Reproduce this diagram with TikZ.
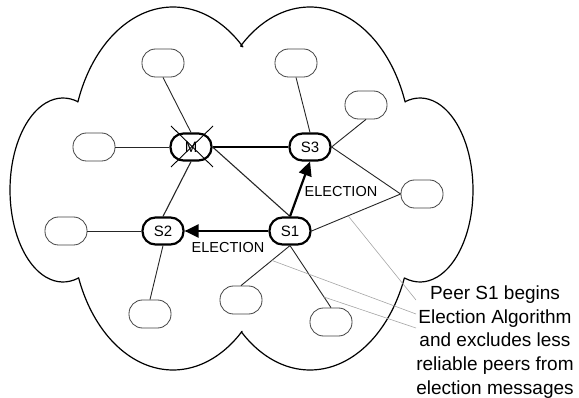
\documentclass[tikz,border=0pt]{standalone}
\usepackage{fontspec}
\setmainfont{Liberation Sans}
\usetikzlibrary{arrows.meta,calc}
\begin{document}
\begin{tikzpicture}[x=1pt,y=-1pt,
  peer/.style={draw=black!75,line width=0.8pt,rectangle,rounded corners=13.5pt,minimum width=42pt,minimum height=28pt,inner sep=0pt},
  super/.style={draw=black,line width=2.2pt,rectangle,rounded corners=13pt,minimum width=41pt,minimum height=27pt,inner sep=0pt,font=\fontsize{15}{15}\selectfont},
  link/.style={draw=black!85,line width=0.9pt},
  strong/.style={draw=black,line width=2pt},
  elect/.style={draw=black,line width=2.2pt,-{Triangle[length=14pt,width=13pt]}},
  note/.style={draw=black!35,line width=0.6pt},
  lbl/.style={font=\fontsize{14.5}{14.5}\selectfont,inner sep=0pt},
  cloudline/.style={draw=black,line width=1.2pt,line join=round}
]
\useasboundingbox (0,0) rectangle (579,398);
% cloud
\draw[cloudline]
  plot[domain=199.6:313.8,variable=\t,samples=40,smooth] ({173+101*cos(\t)},{150+143*sin(\t)})
  -- plot[domain=226.6:340.4,variable=\t,samples=40,smooth] ({310+101*cos(\t)},{150+143*sin(\t)})
  -- plot[domain=253.5:466.5,variable=\t,samples=50,smooth] ({420+53*cos(\t)},{190+92*sin(\t)})
  -- plot[domain=20.9:132.8,variable=\t,samples=40,smooth] ({310+101*cos(\t)},{227+143*sin(\t)})
  -- plot[domain=46.8:159.2,variable=\t,samples=40,smooth] ({173+101*cos(\t)},{227+143*sin(\t)})
  -- plot[domain=73.5:286.5,variable=\t,samples=50,smooth] ({63+53*cos(\t)},{190+92*sin(\t)})
  -- cycle;
% nodes
\node[peer] (tl) at (163,63) {};
\node[peer] (tm) at (296,63) {};
\node[peer] (ru) at (366,105) {};
\node[peer] (lp) at (94,147) {};
\node[super] (m) at (191,147) {M};
\node[super] (s3) at (310,147) {S3};
\node[peer] (rm) at (422,194) {};
\node[peer] (ll) at (66,231) {};
\node[super] (s2) at (163,231) {S2};
\node[super] (s1) at (290,231) {S1};
\node[peer] (b2) at (150,314) {};
\node[peer] (bm) at (241,300) {};
\node[peer] (br) at (331,322) {};
% links
\draw[link] (tl.south) -- (m.north);
\draw[link] (tm.south) -- (s3.north);
\draw[link] (ru.south) -- (s3.east);
\draw[link] (s3.east) -- (rm.west);
\draw[link] (s1.east) -- (rm.west);
\draw[link] (lp.east) -- (m.west);
\draw[strong] (m.east) -- (s3.west);
\draw[link,line width=1.1pt] (m.east) -- (s1.north);
\draw[link,line width=1.1pt] (m.south) -- (s2.north);
\draw[link] (s2.west) -- (ll.east);
\draw[link] (s2.south) -- (b2.north);
\draw[link] (s1.south) -- (bm.north);
\draw[link] (s1.south) -- (br.north);
\draw[elect] (s1.north) -- (s3.south);
\draw[elect] (s1.west) -- (s2.east);
% cross on M
\draw[black,line width=0.9pt] ($(m.center)+(-20,-21)$) -- ($(m.center)+(22,20)$);
\draw[black,line width=0.9pt] ($(m.center)+(22,-21)$) -- ($(m.center)+(-20,20)$);
% labels
\node[lbl] (e1) at (341,192) {ELECTION};
\node[lbl] (e2) at (228,248) {ELECTION};
% annotation
\node[align=center,inner sep=0pt,font=\fontsize{19}{23.8}\selectfont] (txt) at (495,342)
  {Peer S1 begins\\Election Algorithm\\and excludes less\\reliable peers from\\election messages};
\coordinate (g1) at ($(s1.east)!0.41!(rm.west)$);
\coordinate (g2) at ($(s1.south)!0.37!(bm.north)$);
\coordinate (g3) at ($(s1.south)!0.83!(br.north)$);
\coordinate (h1) at (416,300);
\coordinate (h2) at (416,314);
\coordinate (h3) at (416,328);
\draw[note] (g1) -- (h1);
\draw[note] (g2) -- (h2);
\draw[note] (g3) -- (h3);
\end{tikzpicture}
\end{document}
